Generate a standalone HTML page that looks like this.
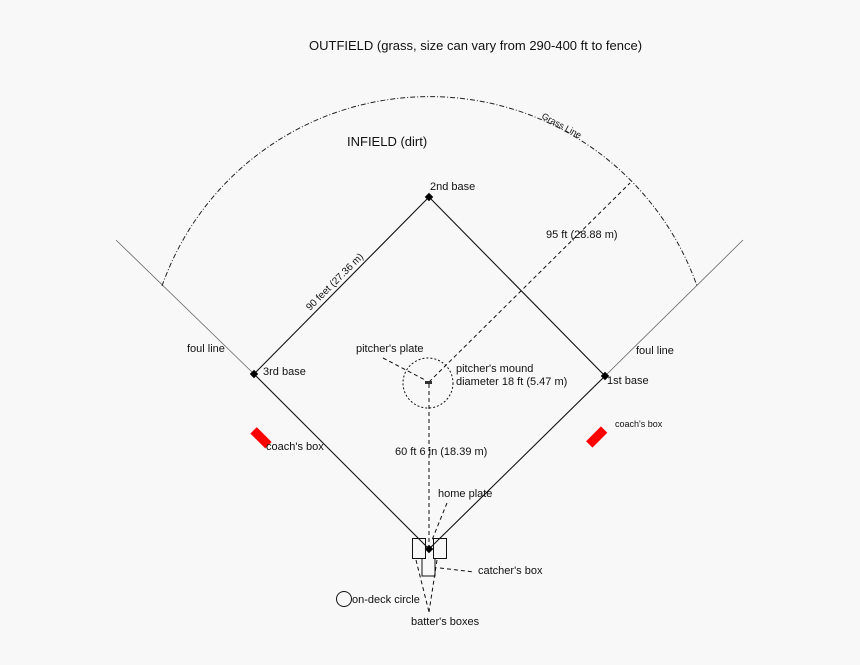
<!DOCTYPE html>
<html><head><meta charset="utf-8"><style>
html,body{margin:0;padding:0;background:#f8f8f8;}
svg{display:block;}
text{font-family:"Liberation Sans",Arial,sans-serif;fill:#111;}
</style></head><body>
<svg width="860" height="665" viewBox="0 0 860 665" xmlns="http://www.w3.org/2000/svg">
<rect width="860" height="665" fill="#f8f8f8"/>
<!-- foul lines -->
<line x1="116" y1="240" x2="254" y2="374" stroke="#666" stroke-width="0.8"/>
<line x1="743" y1="240" x2="605" y2="376" stroke="#666" stroke-width="0.8"/>
<!-- grass arc -->
<path d="M162,286 A283.6,283.6 0 0 1 697,286" fill="none" stroke="#222" stroke-width="1" stroke-dasharray="5,2,1,2"/>
<!-- diamond -->
<path d="M429,549 L254,374 L429,197 L605,376 Z" fill="none" stroke="#111" stroke-width="1.1"/>
<!-- bases -->
<rect x="426" y="194" width="6" height="6" transform="rotate(45 429 197)" fill="#000"/>
<rect x="251" y="371" width="6" height="6" transform="rotate(45 254 374)" fill="#000"/>
<rect x="602" y="373" width="6" height="6" transform="rotate(45 605 376)" fill="#000"/>
<rect x="426" y="546" width="6" height="6" transform="rotate(45 429 549)" fill="#000"/>
<!-- dashed lines -->
<line x1="429" y1="382" x2="630" y2="183" stroke="#111" stroke-dasharray="4,3"/>
<line x1="429" y1="384" x2="429" y2="546" stroke="#111" stroke-dasharray="4,3"/>
<line x1="383" y1="358" x2="425" y2="380" stroke="#111" stroke-dasharray="4,3"/>
<circle cx="428" cy="383" r="25" fill="none" stroke="#111" stroke-dasharray="2,2"/>
<rect x="425" y="381" width="7" height="3" fill="#333"/>
<line x1="447" y1="503" x2="432" y2="540" stroke="#111" stroke-dasharray="4,3"/>
<!-- boxes -->
<rect x="412.5" y="538.5" width="13" height="20" fill="none" stroke="#111"/>
<rect x="433.5" y="538.5" width="13" height="20" fill="none" stroke="#111"/>
<path d="M422,558 V576 H435 V558" fill="none" stroke="#111"/>
<line x1="440" y1="568" x2="474" y2="572" stroke="#111" stroke-dasharray="4,3"/>
<line x1="416" y1="560" x2="429" y2="612" stroke="#111" stroke-dasharray="4,3"/>
<line x1="437" y1="560" x2="429" y2="612" stroke="#111" stroke-dasharray="4,3"/>
<circle cx="344" cy="599" r="7.5" fill="none" stroke="#111"/>
<!-- coach boxes -->
<rect x="251" y="433" width="21" height="9" fill="#f00" transform="rotate(45 261 437)"/>
<rect x="586" y="433" width="21" height="9" fill="#f00" transform="rotate(-45 596 437)"/>
<!-- labels -->
<text x="309" y="50" font-size="13">OUTFIELD (grass, size can vary from 290-400 ft to fence)</text>
<text x="347" y="146" font-size="13">INFIELD (dirt)</text>
<text x="430" y="190" font-size="11">2nd base</text>
<text x="546" y="238" font-size="11">95 ft (28.88 m)</text>
<text x="0" y="0" font-size="10" transform="translate(310,311) rotate(-45)">90 feet (27.36 m)</text>
<text x="0" y="0" font-size="9" transform="translate(541,118) rotate(28)">Grass Line</text>
<text x="187" y="352" font-size="11">foul line</text>
<text x="636" y="354" font-size="11">foul line</text>
<text x="356" y="352" font-size="11">pitcher's plate</text>
<text x="456" y="372" font-size="11">pitcher's mound</text>
<text x="456" y="385" font-size="11">diameter 18 ft (5.47 m)</text>
<text x="263" y="375" font-size="11">3rd base</text>
<text x="607" y="384" font-size="11">1st base</text>
<text x="266" y="450" font-size="11">coach's box</text>
<text x="615" y="427" font-size="9">coach's box</text>
<text x="395" y="455" font-size="11">60 ft 6 in (18.39 m)</text>
<text x="438" y="497" font-size="11">home plate</text>
<text x="478" y="574" font-size="11">catcher's box</text>
<text x="352" y="603" font-size="11">on-deck circle</text>
<text x="411" y="625" font-size="11">batter's boxes</text>
</svg>
</body></html>
